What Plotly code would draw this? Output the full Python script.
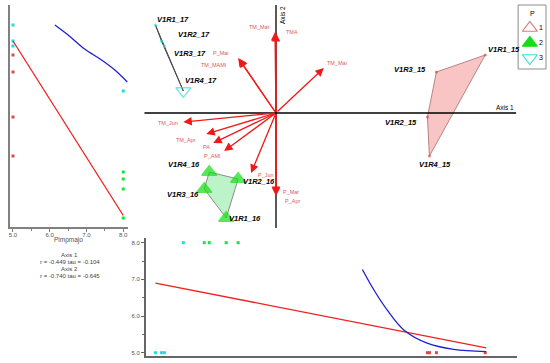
import plotly.graph_objects as go

W, H = 550, 363

# ---------------- data ----------------
samples = ["V1R1_15", "V1R2_15", "V1R3_15", "V1R4_15",
           "V1R1_16", "V1R2_16", "V1R3_16", "V1R4_16",
           "V1R1_17", "V1R2_17", "V1R3_17", "V1R4_17"]
group = [1, 1, 1, 1, 2, 2, 2, 2, 3, 3, 3, 3]
axis1 = [2.10, 1.52, 1.61, 1.54, -0.50, -0.38, -0.72, -0.67, -1.21, -1.15, -1.12, -0.93]
axis2 = [0.58, -0.04, 0.41, -0.43, -1.05, -0.66, -0.76, -0.59, 0.88, 0.72, 0.67, 0.22]
pimpmajo = [5, 5, 5, 5, 8, 8, 8, 8, 5, 5, 5, 8]

vectors = ["TM_Mar", "TMA", "P_Mai", "TM_MAMI", "TM_Mai", "TM_Jun",
           "TM_Apr", "PA", "P_AMI", "P_Jun", "P_Mar", "P_Apr"]
vec_x = [-0.01, 0.00, -0.38, -0.37, 0.48, -0.93, -0.70, -0.63, -0.52, -0.25, 0.00, 0.00]
vec_y = [0.81, 0.80, 0.55, 0.54, 0.45, -0.09, -0.21, -0.30, -0.38, -0.60, -0.82, -0.83]

# fitted lines (left: Axis 2 vs Pimpmajo ; bottom: Pimpmajo vs Axis 1)
left_lin_x = [5.0, 8.0]
left_lin_y = [0.72, -1.025]
left_smooth_x = [6.14, 6.50, 6.95, 7.41, 7.77, 8.11]
left_smooth_y = [0.88, 0.78, 0.64, 0.53, 0.43, 0.31]
bottom_lin_x = [-1.21, 2.11]
bottom_lin_y = [6.90, 5.13]
bottom_smooth_x = [0.867, 0.983, 1.117, 1.283, 1.517, 1.783, 2.107]
bottom_smooth_y = [7.27, 6.71, 6.16, 5.62, 5.26, 5.09, 5.03]

stats_lines = ["Axis 1", "r = -0.449 tau = -0.104", "Axis 2", "r = -0.740 tau = -0.645"]
legend_groups = [1, 2, 3]

# ---------------- styles ----------------
FONT = "Arial, Liberation Sans, sans-serif"
g_sym = {1: "triangle-up-open", 2: "triangle-up", 3: "triangle-down-open"}
g_col = {1: "#e07878", 2: "#14de14", 3: "#38dede"}
g_dot = {1: "#e04848", 2: "#22dd44", 3: "#22dddd"}
g_fill = {1: "#f8c4c4", 2: "#bdf3c9", 3: "#a6eeee"}
g_edge = {1: "#b88484", 2: "#8c8c8c", 3: "#4a4a4a"}
size_of = {5: 3, 8: 13}

# label offsets (pixels): (xanchor, xshift, yshift)
lab_off = {
    "V1R1_17": ("left", 0, 6), "V1R2_17": ("left", 15, 7), "V1R3_17": ("left", 8, -7),
    "V1R4_17": ("left", 0, 11), "V1R1_15": ("left", 1, 6), "V1R3_15": ("right", -8, 3),
    "V1R2_15": ("right", -8, -5), "V1R4_15": ("left", -12, -8), "V1R4_16": ("right", -7, 8),
    "V1R2_16": ("left", 3, -2), "V1R3_16": ("right", -3, -5), "V1R1_16": ("left", 1, 0),
}
vec_off = {
    "TM_Mar": ("right", -3, 5), "TMA": ("left", 8, 1), "P_Mai": ("right", -7, 5),
    "TM_MAMI": ("right", -10, -6), "TM_Mai": ("left", 1, 5), "TM_Jun": ("right", -3, -1),
    "TM_Apr": ("right", -8, -6), "PA": ("right", -1, -4), "P_AMI": ("right", -1, -5),
    "P_Jun": ("left", 5, -2), "P_Mar": ("left", 5, 3), "P_Apr": ("left", 7, -5),
}


def px(x):
    return x / W


def py(y):
    return 1 - y / H


def convex_hull(points):
    pts = sorted(set(points))
    if len(pts) < 3:
        return pts

    def cross(o, a, b):
        return (a[0] - o[0]) * (b[1] - o[1]) - (a[1] - o[1]) * (b[0] - o[0])
    lower, upper = [], []
    for p in pts:
        while len(lower) >= 2 and cross(lower[-2], lower[-1], p) <= 0:
            lower.pop()
        lower.append(p)
    for p in reversed(pts):
        while len(upper) >= 2 and cross(upper[-2], upper[-1], p) <= 0:
            upper.pop()
        upper.append(p)
    return lower[:-1] + upper[:-1]


fig = go.Figure()

# ---------------- biplot ----------------
for g in sorted(set(group)):
    pts = [(axis1[i], axis2[i]) for i in range(len(samples)) if group[i] == g]
    h = convex_hull(pts)
    h = h + [h[0]]
    fig.add_trace(go.Scatter(x=[p[0] for p in h], y=[p[1] for p in h], mode="lines",
                             fill="toself", fillcolor=g_fill[g],
                             line=dict(color=g_edge[g], width=1),
                             hoverinfo="skip", showlegend=False, xaxis="x", yaxis="y"))

for g in sorted(set(group)):
    idx = [i for i in range(len(samples)) if group[i] == g]
    fig.add_trace(go.Scatter(
        x=[axis1[i] for i in idx], y=[axis2[i] for i in idx], mode="markers",
        marker=dict(symbol=[g_sym[g] if pimpmajo[i] == 8 else "circle" for i in idx],
                    size=[size_of[pimpmajo[i]] for i in idx],
                    color=[g_col[g] if pimpmajo[i] == 8 else g_dot[g] for i in idx],
                    line=dict(width=[1.3 if pimpmajo[i] == 8 else 0 for i in idx],
                              color=g_col[g])),
        showlegend=False, xaxis="x", yaxis="y", cliponaxis=False))

annotations = []
for n, vx, vy in zip(vectors, vec_x, vec_y):
    annotations.append(dict(x=vx, y=vy, ax=0, ay=0, xref="x", yref="y", axref="x", ayref="y",
                            text="", showarrow=True, arrowhead=2, arrowsize=1.3,
                            arrowwidth=1.3, arrowcolor="#ee1a1a", standoff=0))
    xa, xs, ys = vec_off[n]
    annotations.append(dict(x=vx, y=vy, xref="x", yref="y", text=n, showarrow=False,
                            xanchor=xa, yanchor="middle", xshift=xs, yshift=ys,
                            font=dict(family=FONT, size=5.5, color="#e05858")))

for i, s in enumerate(samples):
    xa, xs, ys = lab_off[s]
    annotations.append(dict(x=axis1[i], y=axis2[i], xref="x", yref="y",
                            text="<b><i>" + s + "</i></b>", showarrow=False,
                            xanchor=xa, yanchor="middle", xshift=xs, yshift=ys,
                            font=dict(family=FONT, size=7.5, color="#000000")))

annotations.append(dict(x=px(516), y=py(107), xref="paper", yref="paper", text="Axis 1",
                        showarrow=False, xanchor="right", yanchor="middle",
                        font=dict(family=FONT, size=6.5, color="#000")))
annotations.append(dict(x=px(282), y=py(15), xref="paper", yref="paper", text="Axis 2",
                        showarrow=False, textangle=-90, xanchor="center", yanchor="middle",
                        font=dict(family=FONT, size=6.5, color="#000")))

# ---------------- left panel ----------------
for g in sorted(set(group)):
    idx = [i for i in range(len(samples)) if group[i] == g]
    fig.add_trace(go.Scatter(x=[pimpmajo[i] for i in idx], y=[axis2[i] for i in idx],
                             mode="markers", marker=dict(symbol="square", size=3, color=g_dot[g]),
                             showlegend=False, xaxis="x2", yaxis="y2", cliponaxis=False))
fig.add_trace(go.Scatter(x=left_lin_x, y=left_lin_y, mode="lines",
                         line=dict(color="#f02020", width=1.3),
                         showlegend=False, xaxis="x2", yaxis="y2"))
fig.add_trace(go.Scatter(x=left_smooth_x, y=left_smooth_y, mode="lines", line_shape="spline",
                         line=dict(color="#2020d0", width=1.3),
                         showlegend=False, xaxis="x2", yaxis="y2"))

annotations.append(dict(x=px(67), y=py(240), xref="paper", yref="paper", text="Pimpmajo",
                        showarrow=False, xanchor="center", yanchor="middle",
                        font=dict(family=FONT, size=6.5, color="#555")))
for k, (line, yy) in enumerate(zip(stats_lines, [255, 262, 269, 276])):
    annotations.append(dict(x=px(68), y=py(yy), xref="paper", yref="paper", text=line,
                            showarrow=False, xanchor="center", yanchor="middle",
                            font=dict(family=FONT, size=6, color="#444")))

# ---------------- bottom panel ----------------
for g in sorted(set(group)):
    idx = [i for i in range(len(samples)) if group[i] == g]
    fig.add_trace(go.Scatter(x=[axis1[i] for i in idx], y=[pimpmajo[i] for i in idx],
                             mode="markers", marker=dict(symbol="square", size=3, color=g_dot[g]),
                             showlegend=False, xaxis="x3", yaxis="y3", cliponaxis=False))
fig.add_trace(go.Scatter(x=bottom_lin_x, y=bottom_lin_y, mode="lines",
                         line=dict(color="#f02020", width=1.3),
                         showlegend=False, xaxis="x3", yaxis="y3"))
fig.add_trace(go.Scatter(x=bottom_smooth_x, y=bottom_smooth_y, mode="lines", line_shape="spline",
                         line=dict(color="#2020d0", width=1.3),
                         showlegend=False, xaxis="x3", yaxis="y3"))

# ---------------- legend (manual) ----------------
fig.add_trace(go.Scatter(
    x=[0.42] * len(legend_groups), y=legend_groups, mode="markers+text",
    text=[str(g) for g in legend_groups], textposition="middle right",
    textfont=dict(family=FONT, size=7, color="#000"),
    marker=dict(symbol=[g_sym[g] for g in legend_groups], size=13,
                color=[g_col[g] for g in legend_groups],
                line=dict(width=1.2, color=[g_col[g] for g in legend_groups])),
    showlegend=False, xaxis="x4", yaxis="y4", cliponaxis=False))
annotations.append(dict(x=px(532), y=py(13), xref="paper", yref="paper", text="P",
                        showarrow=False, xanchor="center", yanchor="middle",
                        font=dict(family=FONT, size=7, color="#000")))

shapes = [
    dict(type="line", xref="x domain", yref="y", x0=0, x1=1, y0=0, y1=0,
         line=dict(color="#000", width=1.3), layer="above"),
    dict(type="line", xref="x", yref="y domain", x0=0, x1=0, y0=0, y1=1,
         line=dict(color="#000", width=1.3), layer="above"),
    dict(type="rect", xref="paper", yref="paper", x0=px(518), x1=px(546), y0=py(69), y1=py(5),
         line=dict(color="#8c8c8c", width=1), layer="below"),
]

hidden = dict(visible=False, fixedrange=True)
tickfont = dict(family=FONT, size=6, color="#555")

fig.update_layout(
    width=W, height=H, margin=dict(l=0, r=0, t=0, b=0),
    paper_bgcolor="white", plot_bgcolor="rgba(0,0,0,0)", showlegend=False,
    xaxis=dict(domain=[px(143), px(516)], range=[-1.32, 2.41], anchor="y", **hidden),
    yaxis=dict(domain=[py(228), py(5)], range=[-1.15, 1.08], anchor="x", **hidden),
    xaxis2=dict(domain=[px(8.5), px(126.7)], range=[4.932, 8.135], anchor="y2",
                showline=True, linecolor="#808080", linewidth=2, showgrid=False, zeroline=False,
                ticks="outside", ticklen=3, tickcolor="#808080", tickwidth=1,
                tickmode="array", tickvals=[5, 6, 7, 8], tickformat=".1f", tickfont=tickfont,
                minor=dict(ticks="outside", ticklen=2, dtick=0.5, tick0=5, tickcolor="#808080"),
                ticklabelstandoff=-2),
    yaxis2=dict(domain=[py(227), py(5)], range=[-1.14, 1.08], anchor="x2",
                showline=True, linecolor="#808080", linewidth=2, showgrid=False, zeroline=False,
                showticklabels=False, ticks=""),
    xaxis3=dict(domain=[px(144.3), px(516.7)], range=[-1.307, 2.417], anchor="y3",
                showline=True, linecolor="#666", linewidth=1.5, showgrid=False, zeroline=False,
                showticklabels=False, ticks=""),
    yaxis3=dict(domain=[py(355.7), py(238)], range=[4.918, 8.128], anchor="x3",
                showline=True, linecolor="#666", linewidth=1.5, showgrid=False, zeroline=False,
                ticks="outside", ticklen=3, tickcolor="#666", tickwidth=1,
                tickmode="array", tickvals=[5, 6, 7, 8], tickformat=".1f", tickfont=tickfont,
                minor=dict(ticks="outside", ticklen=2, dtick=0.5, tick0=5, tickcolor="#666")),
    xaxis4=dict(domain=[px(518), px(546)], range=[0, 1], anchor="y4", **hidden),
    yaxis4=dict(domain=[py(68), py(18)], range=[3.667, 0.333], anchor="x4", **hidden),
    annotations=annotations, shapes=shapes,
)

fig.write_html("out.html", config={"displayModeBar": False},
               post_script="document.body.style.margin='0px';")
